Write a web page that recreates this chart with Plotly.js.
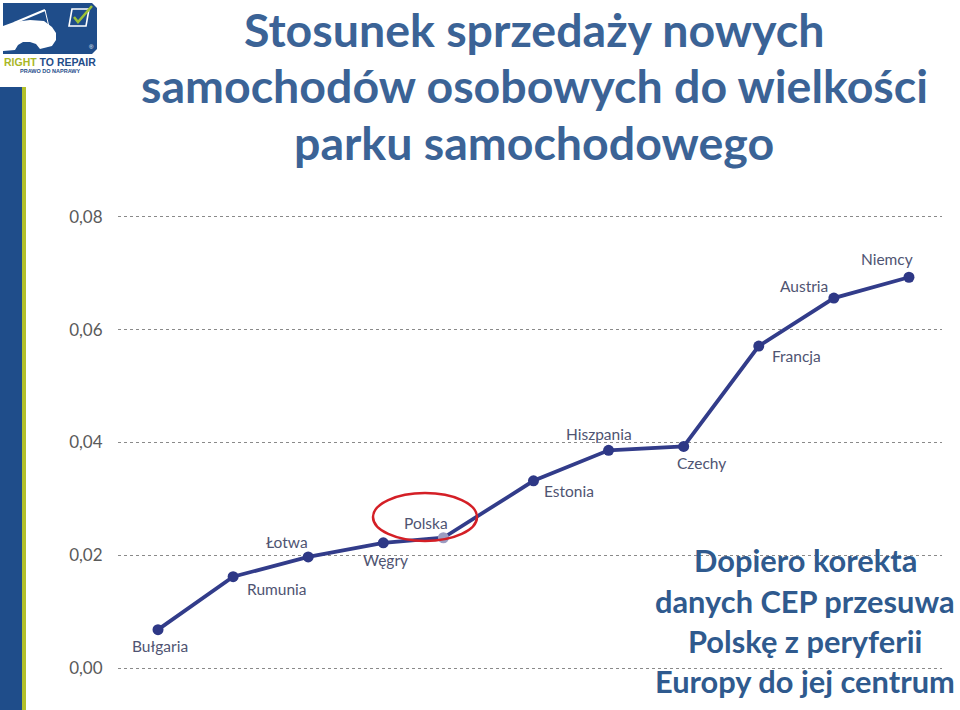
<!DOCTYPE html>
<html>
<head>
<meta charset="utf-8">
<script src="https://cdn.plot.ly/plotly-3.0.1.min.js"></script>
<style>
html,body{margin:0;padding:0;background:#fff;}
#chart{width:960px;height:710px;}
</style>
</head>
<body>
<div id="chart"></div>
<script>
// ---- data ----
const countries = ["Bułgaria","Rumunia","Łotwa","Węgry","Polska","Estonia","Hiszpania","Czechy","Francja","Austria","Niemcy"];
const xPos = [0,1,2,3,3.8,5,6,7,8,9,10];
const ratio = [0.0068,0.0162,0.0197,0.0222,0.0231,0.0332,0.0386,0.0393,0.0571,0.0656,0.0693];
const yTicks = [0,0.02,0.04,0.06,0.08];
const yTickLabels = ["0,00","0,02","0,04","0,06","0,08"];
const titleLines = ["Stosunek sprzedaży nowych","samochodów osobowych do wielkości","parku samochodowego"];
const noteLines = ["Dopiero korekta","danych CEP przesuwa","Polskę z peryferii","Europy do jej centrum"];
const highlight = "Polska";

// ---- layout helpers (pixel -> paper) ----
const W = 960, H = 710, ML = 118, MR = 18, MT = 200, MB = 20;
const PW = W - ML - MR, PH = H - MT - MB;
const px = x => (x - ML) / PW;
const py = y => (H - MB - y) / PH;
function path(points, close){
  return points.map((p,i)=>(i?'L':'M')+px(p[0]).toFixed(5)+','+py(p[1]).toFixed(5)).join(' ')+(close?' Z':'');
}

const navy = '#323c8a';
const markerColors = countries.map(c => c === highlight ? '#9c9dc2' : '#2e3886');

const trace = {
  x: xPos, y: ratio, text: countries,
  type: 'scatter', mode: 'lines+markers',
  line: {color: navy, width: 3.8},
  marker: {color: markerColors, size: 11},
  hoverinfo: 'text+y', showlegend: false
};

// label offsets (px) relative to each point
const labelShift = [[2,-16],[44,-12],[-21,15],[2,-17],[-17,15],[36,-10],[-10,16],[18,-17],[38,-10],[-30,12],[-22,18]];

const annotations = countries.map((c,i)=>({
  x: xPos[i], y: ratio[i], xref:'x', yref:'y', text: c, showarrow:false,
  xshift: labelShift[i][0], yshift: labelShift[i][1],
  font:{family:'Lato, sans-serif', size:15.5, color:'#4f5472'}
}));

const titleY = [29, 85, 142];
titleLines.forEach((t,i)=>annotations.push({
  x: px(534), y: py(titleY[i]), xref:'paper', yref:'paper', text:'<b>'+t+'</b>', showarrow:false,
  xanchor:'center', yanchor:'middle',
  font:{family:'Lato, sans-serif', size:46.5, color:'#3b6396'}
}));

const noteY = [560, 601, 641, 681];
noteLines.forEach((t,i)=>annotations.push({
  x: px(805), y: py(noteY[i]), xref:'paper', yref:'paper', text:'<b>'+t+'</b>', showarrow:false,
  xanchor:'center', yanchor:'middle',
  font:{family:'Lato, sans-serif', size:30.8, color:'#2f5a8e'}
}));

// logo texts
annotations.push({x:px(50), y:py(62), xref:'paper', yref:'paper', showarrow:false, xanchor:'center', yanchor:'middle',
  text:'<b><span style="color:#a9b726">RIGHT</span> TO REPAIR</b>', font:{family:'Liberation Sans, Arial, sans-serif', size:10.5, color:'#1f4d8a'}});
annotations.push({x:px(50), y:py(71), xref:'paper', yref:'paper', showarrow:false, xanchor:'center', yanchor:'middle',
  text:'<b>PRAWO DO NAPRAWY</b>', font:{family:'Liberation Sans, Arial, sans-serif', size:5.5, color:'#1f4d8a'}});
annotations.push({x:px(91), y:py(47), xref:'paper', yref:'paper', showarrow:false, xanchor:'center', yanchor:'middle',
  text:'®', font:{family:'Liberation Sans, Arial, sans-serif', size:6, color:'#ffffff'}});

const shapes = [
  // white cover for right-bottom note area
  {type:'rect', xref:'paper', yref:'paper', x0:px(637), x1:px(962), y0:py(712), y1:py(541), fillcolor:'#ffffff', line:{width:0}, layer:'between'},
  // left bars
  {type:'rect', xref:'paper', yref:'paper', x0:px(0), x1:px(22), y0:py(712), y1:py(87), fillcolor:'#1f4d8a', line:{width:0}},
  {type:'rect', xref:'paper', yref:'paper', x0:px(22), x1:px(26), y0:py(712), y1:py(87), fillcolor:'#b3c02a', line:{width:0}},
  // logo background
  {type:'path', xref:'paper', yref:'paper', fillcolor:'#1f4d8a', line:{width:0},
   path: path([[3,3],[92,3],[97,8],[97,49],[92,54],[3,54]], true)},
  // car silhouette
  {type:'path', xref:'paper', yref:'paper', fillcolor:'#ffffff', line:{width:0},
   path: path([[3,26],[14,22],[30,20],[44,21],[52,27],[56,33],[56,40],[52,46],[40,49],[36,44],[30,42],[23,42],[18,45],[15,50],[3,51]], true)},
  // open hood line
  {type:'line', xref:'paper', yref:'paper', x0:px(14), y0:py(23), x1:px(45), y1:py(10), line:{color:'#ffffff', width:2}},
  {type:'line', xref:'paper', yref:'paper', x0:px(45), y0:py(10), x1:px(49), y1:py(27), line:{color:'#ffffff', width:1}},
  // check box
  {type:'path', xref:'paper', yref:'paper', fillcolor:'rgba(0,0,0,0)', line:{color:'#ffffff', width:1.6},
   path: path([[72,9],[89,9],[86,26],[69,26]], true)},
  {type:'path', xref:'paper', yref:'paper', fillcolor:'rgba(0,0,0,0)', line:{color:'#9cc236', width:2.5},
   path: path([[74,17],[78,22],[92,6]], false)},
  // red ellipse around highlighted point
  {type:'circle', xref:'paper', yref:'paper', x0:px(373), x1:px(477), y0:py(541), y1:py(493), line:{color:'#d41f26', width:2.5}, layer:'above'}
];

const layout = {
  width: W, height: H,
  margin: {l: ML, r: MR, t: MT, b: MB, pad: 0},
  paper_bgcolor: '#ffffff', plot_bgcolor: '#ffffff',
  separators: ', ',
  showlegend: false,
  xaxis: {range: [-0.533, 10.44], showgrid:false, zeroline:false, showline:false, showticklabels:false, ticks:'', fixedrange:true},
  yaxis: {range: [-0.0039, 0.083], tickvals: yTicks, ticktext: yTickLabels,
    showgrid:true, gridcolor:'#8a8a8a', gridwidth:1, griddash:'dot', zeroline:false, showline:false,
    ticks:'outside', ticklen:11, tickcolor:'rgba(0,0,0,0)',
    tickfont:{family:'Lato, sans-serif', size:17, color:'#5a5a5a'}, fixedrange:true},
  annotations: annotations,
  shapes: shapes
};

Plotly.newPlot('chart', [trace], layout, {displayModeBar:false, staticPlot:true});
</script>
</body>
</html>
